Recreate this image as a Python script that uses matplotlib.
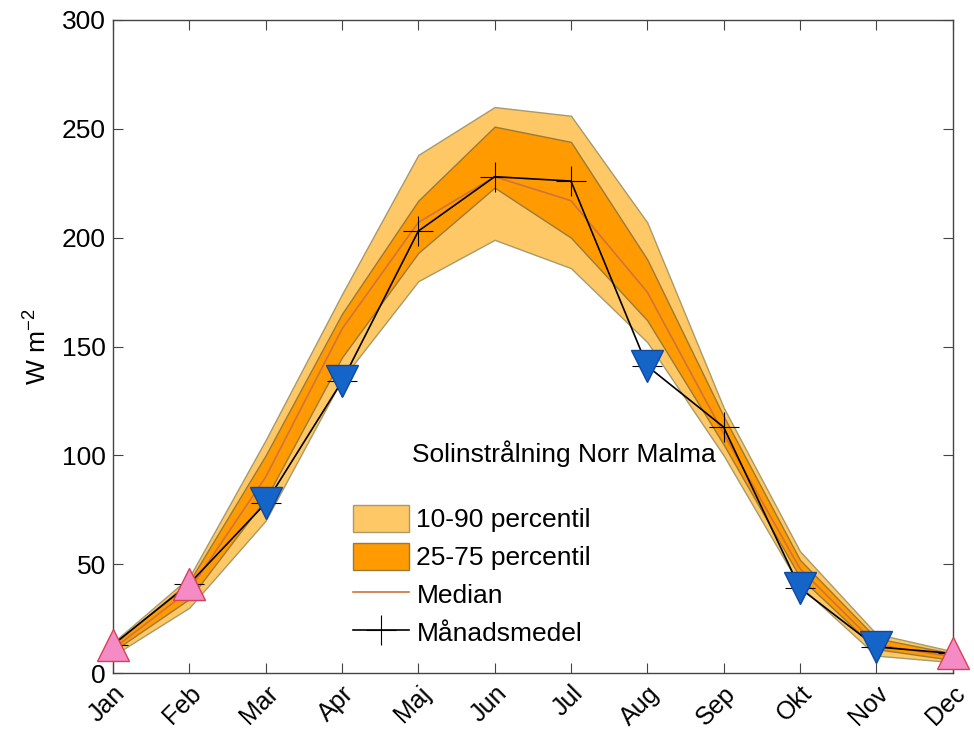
import numpy as np
import matplotlib
matplotlib.use('Agg')
import matplotlib.pyplot as plt
import matplotlib.patches as mpatches
from matplotlib.lines import Line2D

plt.rcParams['font.family'] = ['Liberation Sans', 'DejaVu Sans']

months = ['Jan', 'Feb', 'Mar', 'Apr', 'Maj', 'Jun', 'Jul', 'Aug', 'Sep', 'Okt', 'Nov', 'Dec']
p10 = [8, 30, 70, 135, 180, 199, 186, 152, 100, 40, 8, 5]
p90 = [14, 44, 107, 174, 238, 260, 256, 207, 122, 56, 18, 10]
p25 = [10, 34, 80, 145, 193, 223, 200, 162, 105, 44, 11, 6]
p75 = [13, 42, 100, 165, 217, 251, 244, 190, 118, 52, 16, 9]
median = [11, 38, 90, 158, 207, 228, 217, 175, 110, 48, 13, 7.5]
monthly_mean = [13, 41, 78, 134, 203, 228, 226, 141, 113, 39, 12, 9]
# marker type for each monthly mean: 'up' = above, 'down' = below, '' = none
flags = ['up', 'up', 'down', 'down', '', '', '', 'down', '', 'down', 'down', 'up']

x = np.arange(len(months))

fig = plt.figure(figsize=(9.74, 7.40), dpi=100)
ax = fig.add_axes([0.116, 0.0905, 0.862, 0.8825])

c_light = '#FDC865'
c_dark = '#FF9A00'
ax.fill_between(x, p10, p90, facecolor=c_light, edgecolor='#A89A6A', linewidth=1)
ax.fill_between(x, p25, p75, facecolor=c_dark, edgecolor='#9A7A3A', linewidth=1)
ax.plot(x, median, color='#D0743C', linewidth=1.2)
ax.plot(x, monthly_mean, color='black', linewidth=1.2, marker='+', markersize=21,
        markeredgewidth=0.8)

for xi, yi, f in zip(x, monthly_mean, flags):
    if f == 'up':
        ax.plot(xi, yi, marker='^', markersize=23, color='#F58BC4', markeredgecolor='#D8405A',
                markeredgewidth=1, clip_on=False, zorder=5)
    elif f == 'down':
        ax.plot(xi, yi, marker='v', markersize=23, color='#1565C8', markeredgecolor='#1048A0',
                markeredgewidth=1, clip_on=False, zorder=5)

ax.set_xlim(0, 11)
ax.set_ylim(0, 300)
ax.set_xticks(x)
ax.set_xticklabels(months, rotation=45, ha='right', va='top', rotation_mode='anchor',
                   fontsize=18)
ax.set_yticks(np.arange(0, 301, 50))
ax.tick_params(axis='y', labelsize=19, pad=5)
ax.tick_params(axis='x', pad=6)
ax.tick_params(direction='in', length=7, color='#444444', top=True, right=True,
               labeltop=False, labelright=False)
for s in ax.spines.values():
    s.set_color('#444444')
    s.set_linewidth(1)
ax.set_ylabel('W m$^{\\mathregular{-2}}$', fontsize=19, labelpad=8)

ax.text(3.92, 101, 'Solinstrålning Norr Malma', fontsize=19, va='center', ha='left')

handles = [
    mpatches.Patch(facecolor=c_light, edgecolor='#A89A6A', label='10-90 percentil'),
    mpatches.Patch(facecolor=c_dark, edgecolor='#9A7A3A', label='25-75 percentil'),
    Line2D([], [], color='#D0743C', linewidth=1.2, label='Median'),
    Line2D([], [], color='black', linewidth=1.2, marker='+', markersize=21, markeredgewidth=0.8,
           label='Månadsmedel'),
]
ax.legend(handles=handles, loc='upper left', bbox_to_anchor=(0.286, 0.258), frameon=False,
          fontsize=19, handlelength=2.1, handleheight=1.2, handletextpad=0.3, labelspacing=0.4,
          borderpad=0, borderaxespad=0)

fig.savefig('out.png', dpi=100)
